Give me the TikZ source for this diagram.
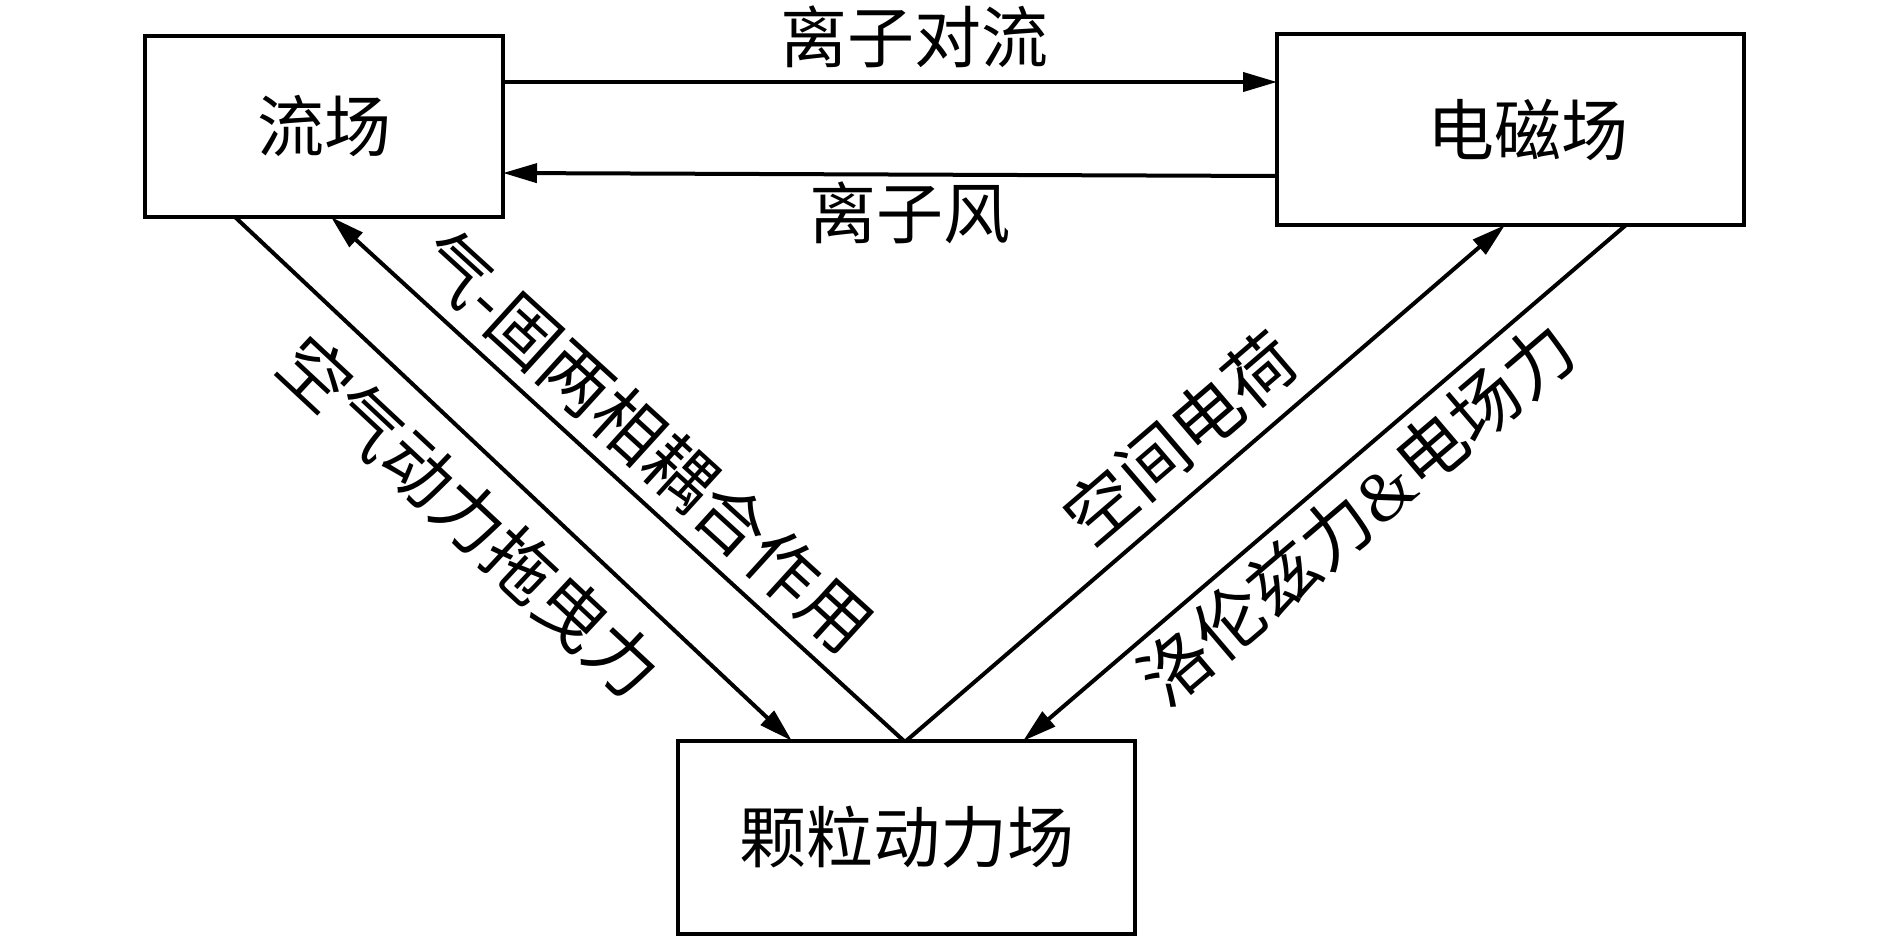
\documentclass[tikz,border=0pt]{standalone}
\usepackage{fontspec}
\setmainfont{Liberation Serif}
\newfontfamily\cjk{Noto Sans CJK SC}
\usetikzlibrary{arrows.meta}
\tikzset{
  fieldbox/.style={draw, line width=4pt, inner sep=0pt, outer sep=0pt, font=\cjk\fontsize{67}{67}\selectfont},
  lbl/.style={inner sep=0pt, font=\cjk\fontsize{67}{67}\selectfont},
  dlbl/.style={inner sep=0pt, font=\cjk\fontsize{70}{70}\selectfont},
  conn/.style={line width=4pt, -{Triangle[length=34pt,width=19pt]}}
}
\begin{document}
\begin{tikzpicture}[x=1pt,y=-1pt]
\useasboundingbox (0,0) rectangle (1890,938);
% boxes
\node[fieldbox, minimum width=358pt, minimum height=181pt] (fl) at (324,126.5) {流场};
\node[fieldbox, minimum width=467pt, minimum height=191pt] (em) at (1510.5,129.5) {\hspace*{34pt}电磁场};
\node[fieldbox, minimum width=457pt, minimum height=193pt] (pk) at (906.5,837.5) {颗粒动力场};
% horizontal connectors
\draw[conn] (fl.east |- 0,82) -- (em.west |- 0,82);
\draw[conn] (em.west |- 0,176) -- (fl.east |- 0,173);
\node[lbl] (l1) at (914,37) {离子对流};
\node[lbl] (l2) at (910,213) {离子风};
% diagonal connectors
\draw[conn] (235,0 |- fl.south) -- (792,0 |- pk.north);
\draw[conn] (904,0 |- pk.north) -- (331,0 |- fl.south);
\draw[conn] (906,0 |- pk.north) -- (1505,0 |- em.south);
\draw[conn] (1626,0 |- em.south) -- (1023,0 |- pk.north);
% diagonal labels
\node[dlbl, rotate=-43] (l3) at (470,517) {空气动力拖曳力};
\node[dlbl, rotate=-42.3] (l4) at (646,441) {气-固两相耦合作用};
\node[dlbl, rotate=40.6] (l5) at (1180,438) {空间电荷};
\node[dlbl, rotate=40.4] (l6) at (1357,513) {洛伦兹力{\rmfamily\&}电场力};
\end{tikzpicture}
\end{document}
